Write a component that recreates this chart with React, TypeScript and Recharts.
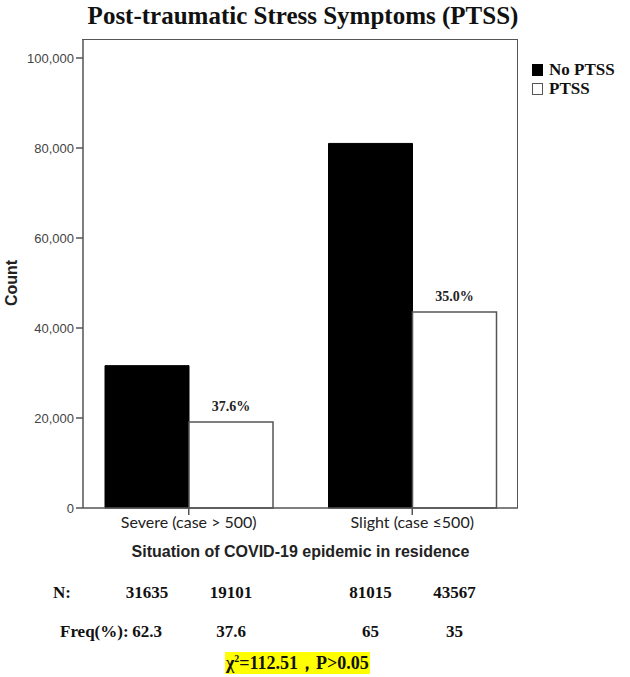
import { BarChart, Bar, XAxis, YAxis, LabelList } from 'recharts'

// Values
const CATEGORIES = ['Severe (case > 500)', 'Slight (case ≤500)']
const NO_PTSS = [31635, 81015]
const PTSS = [19101, 43567]
const NO_PTSS_FREQ = ['62.3', '65']
const PTSS_FREQ = ['37.6', '35']
const PTSS_PCT = ['37.6%', '35.0%']
const Y_TICKS = [0, 20000, 40000, 60000, 80000, 100000]
const SERIES = [
  { key: 'noPtss', name: 'No PTSS', fill: '#000', stroke: '#000' },
  { key: 'ptss', name: 'PTSS', fill: '#fff', stroke: '#555' },
]

const DATA = CATEGORIES.map((name, i) => ({
  name,
  noPtss: NO_PTSS[i],
  ptss: PTSS[i],
  noPtssFreq: NO_PTSS_FREQ[i],
  ptssFreq: PTSS_FREQ[i],
  ptssPct: PTSS_PCT[i],
}))

const SERIF = "'Liberation Serif', 'Times New Roman', serif"
const SANS = "'Liberation Sans', Arial, sans-serif"
const FRAME = '#555'

// plot box (matches chart margins below)
const PLOT = { left: 83, top: 40, right: 518, bottom: 508 }

// draws a value in a row under the chart, centred on its bar
const rowLabel = (rowY: number) => (props: any) => {
  const { x, width, value } = props
  return (
    <text
      x={Number(x) + Number(width) / 2}
      y={rowY}
      textAnchor="middle"
      fontFamily={SERIF}
      fontWeight="bold"
      fontSize={17}
      fill="#111"
    >
      {value}
    </text>
  )
}

export default function App() {
  return (
    <div style={{ position: 'absolute', left: 0, top: 0, width: 630, height: 677, background: '#fff' }}>
      <div
        style={{
          position: 'absolute',
          left: 0,
          width: 606,
          top: 2,
          textAlign: 'center',
          fontFamily: SERIF,
          fontWeight: 'bold',
          fontSize: 25,
          color: '#111',
        }}
      >
        Post-traumatic Stress Symptoms (PTSS)
      </div>

      <BarChart
        width={630}
        height={677}
        data={DATA}
        margin={{ top: PLOT.top, right: 630 - PLOT.right, bottom: 677 - PLOT.bottom - 50, left: 0 }}
        barSize={84}
        barGap={0}
      >
        <XAxis
          dataKey="name"
          padding={{ left: -6, right: -6 }}
          height={50}
          tickSize={7}
          tickLine={{ stroke: FRAME, strokeWidth: 1.5 }}
          axisLine={{ stroke: FRAME, strokeWidth: 1.5 }}
          tick={{ fill: '#222', fontSize: 16, fontFamily: 'Lato, sans-serif' }}
          label={{
            value: 'Situation of COVID-19 epidemic in residence',
            position: 'insideBottom',
            offset: 1,
            fill: '#222',
            fontSize: 16,
            fontWeight: 'bold',
            fontFamily: SANS,
          }}
        />
        <YAxis
          domain={[0, 104000]}
          ticks={Y_TICKS}
          width={PLOT.left}
          tickSize={7}
          tickLine={{ stroke: FRAME, strokeWidth: 1.5 }}
          axisLine={{ stroke: FRAME, strokeWidth: 1.5 }}
          tick={{ fill: '#444', fontSize: 13, fontFamily: SANS }}
          tickFormatter={(v: number) => v.toLocaleString('en-US')}
          label={{
            value: 'Count',
            angle: -90,
            position: 'center',
            dx: -30,
            dy: 9,
            fill: '#222',
            fontSize: 16,
            fontWeight: 'bold',
            fontFamily: SANS,
          }}
        />

        <Bar dataKey="noPtss" name="No PTSS" fill="#000" stroke="#000" isAnimationActive={false}>
          <LabelList dataKey="noPtss" content={rowLabel(598)} />
          <LabelList dataKey="noPtssFreq" content={rowLabel(637)} />
        </Bar>
        <Bar dataKey="ptss" name="PTSS" fill="#fff" stroke="#555" strokeWidth={1.5} isAnimationActive={false}>
          <LabelList
            dataKey="ptssPct"
            position="top"
            offset={11}
            fill="#222"
            fontSize={14}
            fontWeight="bold"
            fontFamily={SERIF}
          />
          <LabelList dataKey="ptss" content={rowLabel(598)} />
          <LabelList dataKey="ptssFreq" content={rowLabel(637)} />
        </Bar>
      </BarChart>

      {/* top and right edges of the plot box */}
      <div
        style={{
          position: 'absolute',
          left: PLOT.left - 0.75,
          top: PLOT.top - 0.75,
          width: PLOT.right - PLOT.left,
          height: PLOT.bottom - PLOT.top,
          borderTop: `1.5px solid ${FRAME}`,
          borderRight: `1.5px solid ${FRAME}`,
          pointerEvents: 'none',
        }}
      />

      {/* row headers */}
      <div style={{ position: 'absolute', left: 53, top: 583, fontFamily: SERIF, fontWeight: 'bold', fontSize: 17, color: '#111' }}>
        N:
      </div>
      <div style={{ position: 'absolute', left: 60, top: 622, fontFamily: SERIF, fontWeight: 'bold', fontSize: 17, color: '#111' }}>
        Freq(%):
      </div>

      {/* legend */}
      <div style={{ position: 'absolute', left: 532, top: 60, fontFamily: SERIF, fontWeight: 'bold', fontSize: 17, color: '#111' }}>
        {SERIES.map((s) => (
          <div key={s.key} style={{ display: 'flex', alignItems: 'center', height: 19 }}>
            <span
              style={{
                display: 'inline-block',
                width: 9,
                height: 10,
                background: s.fill,
                border: `1px solid ${s.stroke}`,
                marginRight: 6,
              }}
            />
            {s.name}
          </div>
        ))}
      </div>

      {/* test statistic */}
      <div
        style={{
          position: 'absolute',
          left: 225,
          top: 652,
          padding: '0 1px',
          background: '#ffff00',
          fontFamily: SERIF,
          fontWeight: 'bold',
          fontSize: 18,
          color: '#111',
          lineHeight: '22px',
        }}
      >
        χ<sup style={{ fontSize: 10, lineHeight: 0 }}>2</sup>=112.51，P&gt;0.05
      </div>
    </div>
  )
}
